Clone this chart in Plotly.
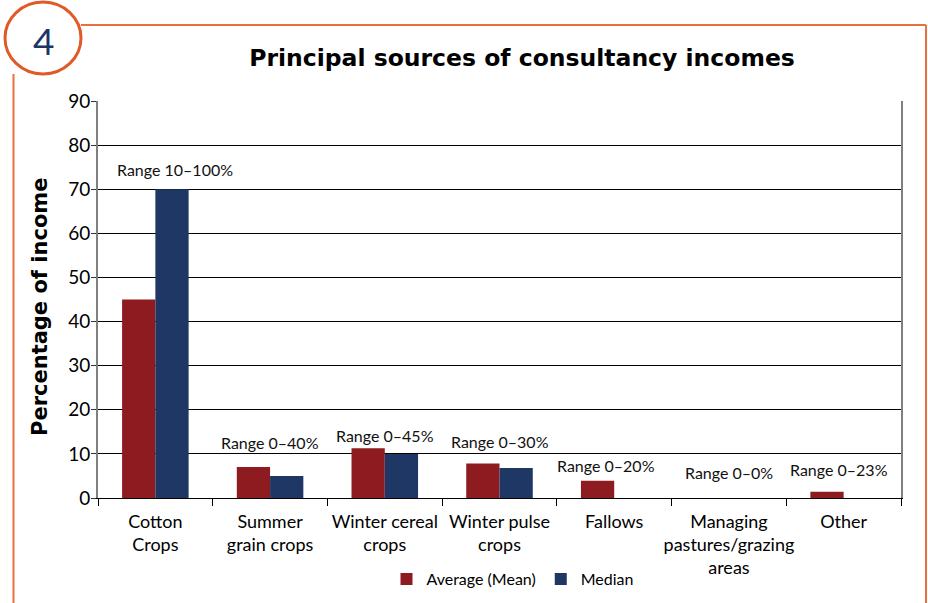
import plotly.graph_objects as go

# Survey results: share of consultancy income by activity
categories = [
    "Cotton<br>Crops",
    "Summer<br>grain crops",
    "Winter cereal<br>crops",
    "Winter pulse<br>crops",
    "Fallows",
    "Managing<br>pastures/grazing<br>areas",
    "Other",
]
mean_pct = [45.0, 7.0, 11.3, 7.8, 3.9, 0.0, 1.4]
median_pct = [70.0, 5.0, 10.0, 6.8, 0.0, 0.0, 0.0]
range_labels = [
    "Range 10–100%",
    "Range 0–40%",
    "Range 0–45%",
    "Range 0–30%",
    "Range 0–20%",
    "Range 0–0%",
    "Range 0–23%",
]
y_ticks = [0, 10, 20, 30, 40, 50, 60, 70, 80, 90]

FONT = "Lato"
BOLD_FONT = "DejaVu Sans"
RED = "#8E1B20"
BLUE = "#1E3764"
ORANGE = "#E8703F"

W, H = 928, 603
L, R, T, B = 98, 27, 101, 105
plot_w = W - L - R
plot_h = H - T - B


def px(x):
    return (x - L) / plot_w


def py(y):
    return (H - B - y) / plot_h


fig = go.Figure()
fig.add_trace(go.Bar(x=categories, y=mean_pct, name="Average (Mean)",
                     marker=dict(color=RED, line=dict(width=0))))
fig.add_trace(go.Bar(x=categories, y=median_pct, name="Median",
                     marker=dict(color=BLUE, line=dict(width=0))))

# range annotations sit above each category's bars
label_lift = [4.5, 5.5, 2.8, 5.1, 3.4, 5.7, 5.0]
label_dx = [20, 0, 0, 0, -8, 0, -5]
for cat, a, b, txt, lift, dx in zip(categories, mean_pct, median_pct,
                                    range_labels, label_lift, label_dx):
    fig.add_annotation(x=cat, y=max(a, b) + lift, text=txt, showarrow=False,
                       xshift=dx, font=dict(family=FONT, size=16, color="#111"))

shapes = [
    # orange page frame
    dict(type="line", xref="paper", yref="paper", x0=px(81), y0=py(25),
         x1=px(926), y1=py(25), line=dict(color=ORANGE, width=2)),
    dict(type="line", xref="paper", yref="paper", x0=px(926), y0=py(25),
         x1=px(926), y1=py(603), line=dict(color=ORANGE, width=2)),
    dict(type="line", xref="paper", yref="paper", x0=px(13.5), y0=py(74),
         x1=px(13.5), y1=py(603), line=dict(color=ORANGE, width=2)),
    dict(type="circle", xref="paper", yref="paper", x0=px(5), y0=py(2),
         x1=px(81), y1=py(74), line=dict(color="#E05A28", width=3)),
]
# figure number inside the circle
fig.add_annotation(xref="paper", yref="paper", x=px(43), y=py(41),
                   xanchor="center", yanchor="middle",
                   text="4", showarrow=False,
                   font=dict(family=FONT, size=37, color="#1B3566"))
# y-axis title
fig.add_annotation(xref="paper", yref="paper", x=px(40), y=py(307),
                   xanchor="center", yanchor="middle", textangle=-90,
                   text="<b>Percentage of income</b>", showarrow=False,
                   font=dict(family=BOLD_FONT, size=21, color="black"))

fig.update_layout(
    width=W, height=H,
    margin=dict(l=L, r=R, t=T, b=B, pad=0, autoexpand=False),
    paper_bgcolor="white", plot_bgcolor="white",
    barmode="group", bargap=0.42, bargroupgap=0,
    shapes=shapes,
    title=dict(text="<b>Principal sources of consultancy incomes</b>",
               x=px(522), xref="paper", xanchor="center",
               y=1 - 58 / H, yanchor="middle",
               font=dict(family=BOLD_FONT, size=23.5, color="black")),
    legend=dict(orientation="h", x=px(513), xanchor="center",
                y=py(579), yanchor="middle",
                font=dict(family=FONT, size=16, color="black"),
                itemwidth=30, tracegroupgap=0),
    xaxis=dict(
        type="category", tickson="boundaries", ticks="outside", ticklen=7,
        tickcolor="black", showline=True, linecolor="black", linewidth=1,
        mirror=False, showgrid=False, tickangle=0, automargin=False,
        ticklabelstandoff=7,
        tickfont=dict(family=FONT, size=18, color="black"),
    ),
    yaxis=dict(
        range=[0, 90], tickvals=y_ticks, ticks="outside", ticklen=5,
        tickcolor="#333", showline=True, linecolor="#808080", linewidth=2,
        mirror=True, showgrid=True, gridcolor="black", gridwidth=1,
        zeroline=False, automargin=False, ticklabelstandoff=-3,
        tickfont=dict(family=FONT, size=19, color="black"),
    ),
)

fig.write_html("out.html")
